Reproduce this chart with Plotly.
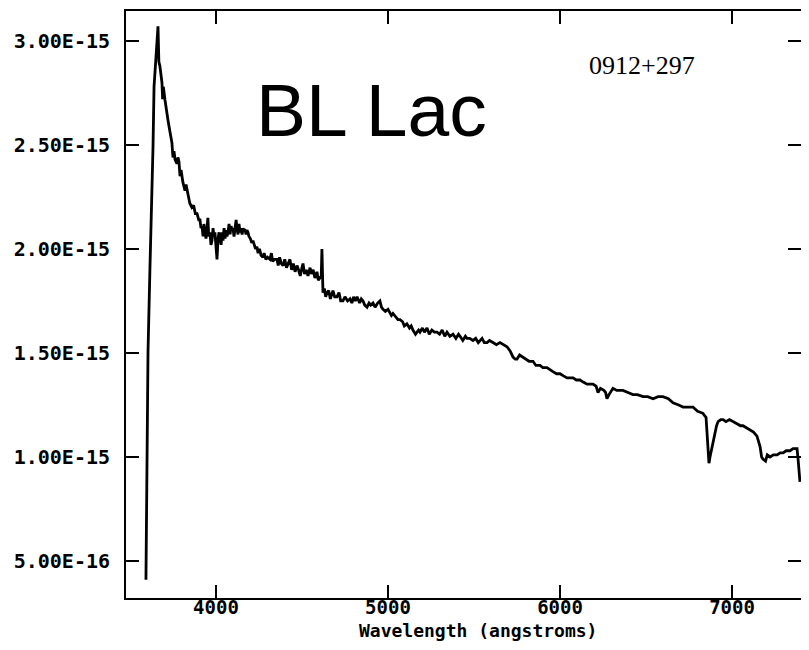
import plotly.graph_objects as go

# Wavelength (angstroms)
wavelength = [
    3593, 3599, 3605, 3616, 3628, 3634, 3640, 3651, 3663, 3668, 3674, 3680, 3686, 3690, 3694, 3703,
    3712, 3721, 3727, 3733, 3739, 3744, 3750, 3756, 3762, 3773, 3779, 3785, 3791, 3797, 3808, 3814,
    3820, 3826, 3837, 3848, 3860, 3870, 3880, 3890, 3900, 3907, 3913, 3919, 3925, 3930, 3936, 3942,
    3948, 3953, 3958, 3965, 3971, 3977, 3983, 3988, 3994, 4000, 4006, 4012, 4018, 4023, 4030, 4035,
    4041, 4047, 4053, 4058, 4064, 4070, 4076, 4082, 4088, 4093, 4099, 4105, 4111, 4117, 4122, 4128,
    4134, 4140, 4146, 4152, 4158, 4163, 4169, 4175, 4180, 4186, 4192, 4200, 4208, 4215, 4223, 4230,
    4238, 4245, 4253, 4262, 4273, 4280, 4290, 4300, 4314, 4322, 4330, 4340, 4355, 4362, 4370, 4380,
    4390, 4400, 4410, 4420, 4430, 4440, 4450, 4460, 4471, 4480, 4490, 4500, 4506, 4515, 4525, 4535,
    4547, 4555, 4565, 4575, 4587, 4595, 4605, 4612, 4616, 4619, 4622, 4630, 4638, 4645, 4655, 4665,
    4680, 4690, 4703, 4715, 4725, 4738, 4750, 4765, 4779, 4790, 4800, 4810, 4820, 4835, 4845, 4855,
    4865, 4878, 4890, 4900, 4913, 4925, 4940, 4953, 4962, 4971, 4985, 5000, 5012, 5020, 5029, 5045,
    5058, 5070, 5085, 5095, 5110, 5125, 5135, 5145, 5160, 5169, 5178, 5186, 5200, 5212, 5227, 5240,
    5255, 5270, 5285, 5300, 5315, 5330, 5343, 5360, 5378, 5395, 5410, 5419, 5435, 5450, 5459, 5475,
    5494, 5510, 5525, 5547, 5560, 5576, 5590, 5610, 5630, 5651, 5670, 5692, 5710, 5727, 5740, 5750,
    5765, 5785, 5800, 5820, 5843, 5860, 5884, 5900, 5924, 5940, 5959, 5980, 6000, 6020, 6041, 6060,
    6076, 6095, 6116, 6135, 6157, 6175, 6192, 6210, 6221, 6235, 6255, 6265, 6273, 6285, 6308, 6330,
    6349, 6366, 6395, 6424, 6450, 6483, 6510, 6541, 6570, 6599, 6630, 6657, 6690, 6715, 6745, 6773,
    6800, 6831, 6849, 6857, 6860, 6866, 6872, 6884, 6895, 6901, 6910, 6919, 6935, 6948, 6965, 6985,
    7006, 7030, 7050, 7064, 7085, 7105, 7125, 7145, 7155, 7163, 7172, 7180, 7195, 7205, 7221, 7240,
    7262, 7280, 7297, 7315, 7337, 7355, 7366, 7378, 7384, 7390, 7395,
]

# Flux in units of 1e-15
flux_e15 = [
    0.41, 0.94, 1.51, 1.90, 2.24, 2.49, 2.78, 2.93, 3.07, 2.90, 2.88, 2.84, 2.80, 2.72, 2.78, 2.72,
    2.66, 2.62, 2.59, 2.56, 2.53, 2.51, 2.44, 2.47, 2.43, 2.41, 2.44, 2.42, 2.35, 2.38, 2.32, 2.30,
    2.28, 2.31, 2.27, 2.22, 2.20, 2.21, 2.17, 2.17, 2.14, 2.14, 2.10, 2.11, 2.06, 2.12, 2.08, 2.05,
    2.10, 2.15, 2.06, 2.08, 2.02, 2.04, 2.10, 2.06, 2.08, 2.00, 1.95, 2.05, 2.08, 2.05, 2.02, 2.08,
    2.04, 2.10, 2.05, 2.09, 2.06, 2.08, 2.12, 2.07, 2.11, 2.09, 2.10, 2.06, 2.11, 2.14, 2.10, 2.07,
    2.12, 2.08, 2.10, 2.07, 2.10, 2.09, 2.09, 2.07, 2.09, 2.08, 2.06, 2.05, 2.03, 2.04, 2.02, 2.00,
    2.01, 1.98, 2.00, 1.97, 1.96, 1.98, 1.95, 1.96, 1.95, 1.98, 1.94, 1.95, 1.95, 1.92, 1.96, 1.93,
    1.92, 1.95, 1.91, 1.93, 1.95, 1.90, 1.93, 1.89, 1.92, 1.90, 1.87, 1.91, 1.93, 1.88, 1.90, 1.87,
    1.91, 1.88, 1.90, 1.86, 1.89, 1.85, 1.86, 1.87, 2.00, 1.82, 1.79, 1.81, 1.77, 1.79, 1.80, 1.76,
    1.80, 1.77, 1.77, 1.79, 1.75, 1.75, 1.77, 1.75, 1.76, 1.74, 1.77, 1.75, 1.77, 1.74, 1.76, 1.75,
    1.73, 1.72, 1.74, 1.73, 1.74, 1.72, 1.74, 1.75, 1.72, 1.71, 1.70, 1.71, 1.69, 1.68, 1.69, 1.67,
    1.66, 1.66, 1.65, 1.63, 1.64, 1.62, 1.63, 1.61, 1.59, 1.60, 1.61, 1.60, 1.62, 1.60, 1.62, 1.59,
    1.61, 1.60, 1.60, 1.59, 1.61, 1.58, 1.60, 1.58, 1.59, 1.57, 1.59, 1.58, 1.56, 1.58, 1.57, 1.57,
    1.56, 1.57, 1.55, 1.57, 1.55, 1.55, 1.56, 1.55, 1.54, 1.55, 1.54, 1.53, 1.51, 1.48, 1.47, 1.47,
    1.49, 1.48, 1.47, 1.46, 1.46, 1.44, 1.44, 1.43, 1.43, 1.42, 1.41, 1.40, 1.40, 1.39, 1.38, 1.38,
    1.38, 1.37, 1.37, 1.36, 1.35, 1.35, 1.35, 1.34, 1.31, 1.33, 1.32, 1.31, 1.28, 1.30, 1.33, 1.32,
    1.32, 1.32, 1.31, 1.30, 1.30, 1.29, 1.29, 1.28, 1.29, 1.29, 1.28, 1.26, 1.25, 1.24, 1.24, 1.24,
    1.22, 1.21, 1.19, 1.10, 1.07, 0.97, 1.00, 1.05, 1.09, 1.12, 1.15, 1.17, 1.18, 1.18, 1.17, 1.18,
    1.17, 1.16, 1.15, 1.15, 1.14, 1.13, 1.12, 1.10, 1.07, 1.05, 1.00, 0.99, 0.98, 1.01, 1.00, 1.01,
    1.01, 1.02, 1.02, 1.03, 1.03, 1.04, 1.04, 1.04, 0.99, 0.92, 0.88,
]

x_ticks = [4000, 5000, 6000, 7000]
y_tick_e15 = [0.5, 1.0, 1.5, 2.0, 2.5, 3.0]
y_tick_labels = ["5.00E-16", "1.00E-15", "1.50E-15", "2.00E-15", "2.50E-15", "3.00E-15"]

flux = [v * 1e-15 for v in flux_e15]
y_ticks = [v * 1e-15 for v in y_tick_e15]

tick_font = dict(family="DejaVu Sans Mono", size=20, color="black", weight="bold")
xtick_font = dict(family="DejaVu Sans Mono", size=19, color="black", weight="bold")
xtitle_font = dict(family="DejaVu Sans Mono", size=18, color="black", weight="bold")

fig = go.Figure()
fig.add_trace(go.Scatter(x=wavelength, y=flux, mode="lines",
                         line=dict(color="black", width=2.8), showlegend=False))

fig.update_layout(
    width=793, height=634,
    margin=dict(l=118, r=0, t=3, b=44, autoexpand=False),
    paper_bgcolor="white", plot_bgcolor="white",
    xaxis=dict(range=[3477, 7401], tickvals=x_ticks, ticktext=[str(v) for v in x_ticks],
               ticks="inside", ticklen=13, tickwidth=2, tickcolor="black",
               showline=True, linewidth=2, linecolor="black", mirror="ticks",
               showgrid=False, zeroline=False, tickfont=xtick_font, automargin=False,
               ticklabelstandoff=-9),
    yaxis=dict(range=[0.322e-15, 3.144e-15], tickvals=y_ticks, ticktext=y_tick_labels,
               ticks="inside", ticklen=13, tickwidth=2, tickcolor="black",
               showline=True, linewidth=2, linecolor="black", mirror="ticks",
               showgrid=False, zeroline=False, tickfont=tick_font, automargin=False,
               ticklabelstandoff=10),
    annotations=[
        dict(text="BL Lac", xref="paper", yref="paper", x=0.3644, y=0.8313,
             xanchor="center", yanchor="middle", showarrow=False,
             font=dict(family="Liberation Sans", size=75, color="black")),
        dict(text="0912+297", xref="paper", yref="paper", x=0.7644, y=0.908,
             xanchor="center", yanchor="middle", showarrow=False,
             font=dict(family="Liberation Serif", size=26, color="black")),
        dict(text="Wavelength (angstroms)", xref="paper", yref="paper", x=0.5215, y=-0.0745,
             xanchor="center", yanchor="bottom", showarrow=False, borderpad=0,
             font=xtitle_font),
    ],
)

fig.write_html("out.html")
